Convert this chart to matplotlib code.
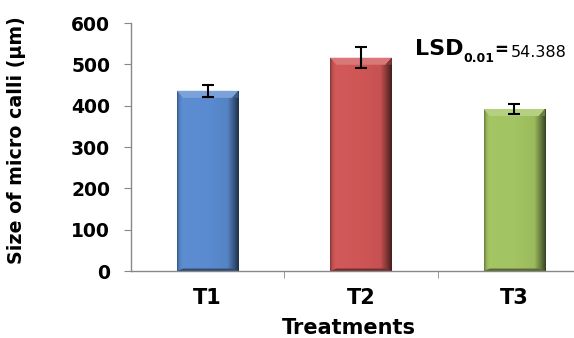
import numpy as np
import matplotlib
matplotlib.use("Agg")
import matplotlib.pyplot as plt
from matplotlib.patches import Polygon
from matplotlib.colors import to_rgb

treatments = ["T1", "T2", "T3"]
calli_size = [436, 516, 392]
calli_err = [14, 26, 11]
bar_colors = ["#5a8bd0", "#d05656", "#a3c462"]
lsd_value = "54.388"

plt.rcParams['font.family'] = ['DejaVu Sans']

fig = plt.figure(figsize=(5.74, 3.38), dpi=100)
ax = fig.add_axes([0.2282, 0.1982, 0.8014, 0.7337])

x = np.arange(len(treatments))
width = 0.4
bars = ax.bar(x, calli_size, width, color=bar_colors, zorder=2)


def shade(c, f):
    c = np.array(to_rgb(c))
    if f >= 0:
        return tuple(c + (1 - c) * f)
    return tuple(c * (1 + f))


# fake the excel bevel look
bx = 0.04
by = 17
prof_x = [0, 0.03, 0.08, 0.5, 0.82, 0.93, 1.0]
prof_f = [-0.35, -0.1, 0.02, 0.0, -0.05, -0.4, -0.65]
for b, c in zip(bars, bar_colors):
    x0 = b.get_x()
    x1 = x0 + b.get_width()
    top = b.get_height()
    # horizontal shading across the bar face
    g = np.linspace(0, 1, 80)
    f = np.interp(g, prof_x, prof_f)
    cols = np.array([shade(c, v) for v in f])[None, :, :]
    im = ax.imshow(cols, extent=[x0, x1, 0, top], aspect='auto', zorder=2.1,
                   interpolation='bilinear')
    im.set_clip_path(b)
    # top bevel
    ax.add_patch(Polygon([(x0, top), (x1, top), (x1 - bx, top - by), (x0 + bx, top - by)],
                         closed=True, color=shade(c, 0.2), lw=0, zorder=2.3))
    ax.add_patch(Polygon([(x1, top), (x1 - bx, top - by), (x1, top - by)],
                         closed=True, color=shade(c, -0.35), lw=0, zorder=2.3))
    # bottom bevel
    ax.add_patch(Polygon([(x0, 0), (x1, 0), (x1 - bx, by * 0.35), (x0 + bx, by * 0.35)],
                         closed=True, color=shade(c, -0.45), lw=0, zorder=2.3))

ax.set_xlim(-0.5, 2.5)
ax.set_ylim(0, 600)

ax.errorbar(x, calli_size, yerr=calli_err, fmt='none', ecolor='black',
            elinewidth=1.5, capsize=4.5, capthick=1.5, zorder=3)

ax.set_yticks(range(0, 601, 100))
ax.set_xticks(x)
ax.set_xticklabels(treatments, fontsize=15, fontweight='bold')
ax.set_xticks([0.5, 1.5], minor=True)
ax.tick_params(axis='x', which='major', length=0, pad=12)
ax.tick_params(axis='x', which='minor', length=5, color='#888888', direction='out')
ax.tick_params(axis='y', length=5, color='#888888', pad=10, labelsize=13.5)
for lab in ax.get_yticklabels():
    lab.set_fontweight('bold')

for s in ['top', 'right']:
    ax.spines[s].set_visible(False)
for s in ['left', 'bottom']:
    ax.spines[s].set_color('#888888')
    ax.spines[s].set_linewidth(1)

ax.set_ylabel("Size of micro calli (µm)", fontsize=13.7, fontweight='bold')
ax.yaxis.set_label_coords(-0.228, 0.526)
ax.set_xlabel("Treatments", fontsize=15, fontweight='bold')
ax.xaxis.set_label_coords(0.474, -0.19)
ax.xaxis.label.set_va('top')

# LSD note
t1 = fig.text(0.723, 0.837, "LSD", fontsize=16, fontweight='bold')
t2 = ax.annotate("0.01", xy=(1, 0), xycoords=t1, xytext=(0, -4), textcoords='offset points',
                 fontsize=9, fontweight='bold', va='bottom')
t3 = ax.annotate("=", xy=(1, 0), xycoords=t2, xytext=(0, 4), textcoords='offset points',
                 fontsize=12, fontweight='bold', va='bottom')
ax.annotate(lsd_value, xy=(1, 0), xycoords=t3, xytext=(2, -1), textcoords='offset points',
            fontsize=11.5, va='bottom')

fig.savefig("out.png", dpi=100)
